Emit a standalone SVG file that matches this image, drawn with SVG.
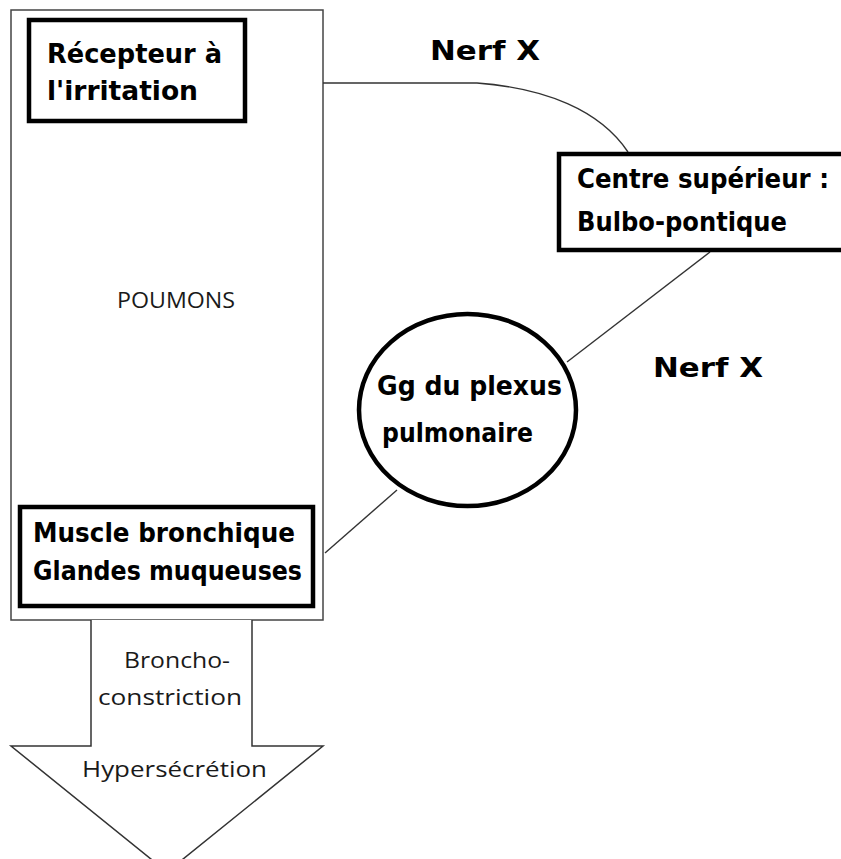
<svg xmlns="http://www.w3.org/2000/svg" width="841" height="859" viewBox="0 0 841 859">
<style>
.box{fill:#fff;stroke:#000;stroke-width:4.5}
.thin{fill:none;stroke:#333;stroke-width:1.4}
.b{font-family:"DejaVu Sans","Noto Sans",sans-serif;font-weight:bold;font-size:26px;fill:#000}
.r{font-family:"Open Sans","Noto Sans",sans-serif;font-size:22px;fill:#1a1a1a}
</style>
<rect width="841" height="859" fill="#fff"/>
<g id="poumons">
<rect x="11" y="10" width="312" height="610" fill="#fff" stroke="#444" stroke-width="1.5"/>
<text class="r" x="117" y="308" textLength="118" lengthAdjust="spacingAndGlyphs">POUMONS</text>
</g>
<g id="fleche">
<path d="M91,620 V746 H11 L167,872 L323,746 H252 V620" fill="#fff" stroke="#333" stroke-width="1.5"/>
<text class="r" x="124" y="668" textLength="106" lengthAdjust="spacingAndGlyphs">Broncho-</text>
<text class="r" x="98" y="705" textLength="144" lengthAdjust="spacingAndGlyphs">constriction</text>
<text class="r" x="82" y="777" textLength="185" lengthAdjust="spacingAndGlyphs">Hypersécrétion</text>
</g>
<g id="connecteurs">
<path class="thin" d="M323,83 H477 C545,88 600,110 628,152"/>
<path class="thin" d="M710,252 L567,362"/>
<path class="thin" d="M397,490 L325,553"/>
</g>
<g id="recepteur">
<rect class="box" x="29" y="20" width="216" height="101"/>
<text class="b" x="47" y="63" textLength="175" lengthAdjust="spacingAndGlyphs">Récepteur à</text>
<text class="b" x="47" y="100" textLength="151" lengthAdjust="spacingAndGlyphs">l'irritation</text>
</g>
<g id="nerf1">
<text class="b" x="430" y="60" textLength="110" lengthAdjust="spacingAndGlyphs">Nerf X</text>
</g>
<g id="centre">
<rect class="box" x="559" y="154" width="300" height="96"/>
<text class="b" x="577" y="188" font-size="25" textLength="252" lengthAdjust="spacingAndGlyphs">Centre supérieur :</text>
<text class="b" x="577" y="231" textLength="210" lengthAdjust="spacingAndGlyphs">Bulbo-pontique</text>
</g>
<g id="nerf2">
<text class="b" x="653" y="377" textLength="110" lengthAdjust="spacingAndGlyphs">Nerf X</text>
</g>
<g id="ganglion">
<ellipse cx="467.5" cy="410" rx="108.5" ry="96" fill="#fff" stroke="#000" stroke-width="4.5"/>
<text class="b" x="377" y="395" textLength="185" lengthAdjust="spacingAndGlyphs">Gg du plexus</text>
<text class="b" x="382" y="442" textLength="151" lengthAdjust="spacingAndGlyphs">pulmonaire</text>
</g>
<g id="muscle">
<rect class="box" x="20" y="507" width="293" height="99"/>
<text class="b" x="33" y="542" textLength="262" lengthAdjust="spacingAndGlyphs">Muscle bronchique</text>
<text class="b" x="33" y="580" textLength="269" lengthAdjust="spacingAndGlyphs">Glandes muqueuses</text>
</g>
</svg>
